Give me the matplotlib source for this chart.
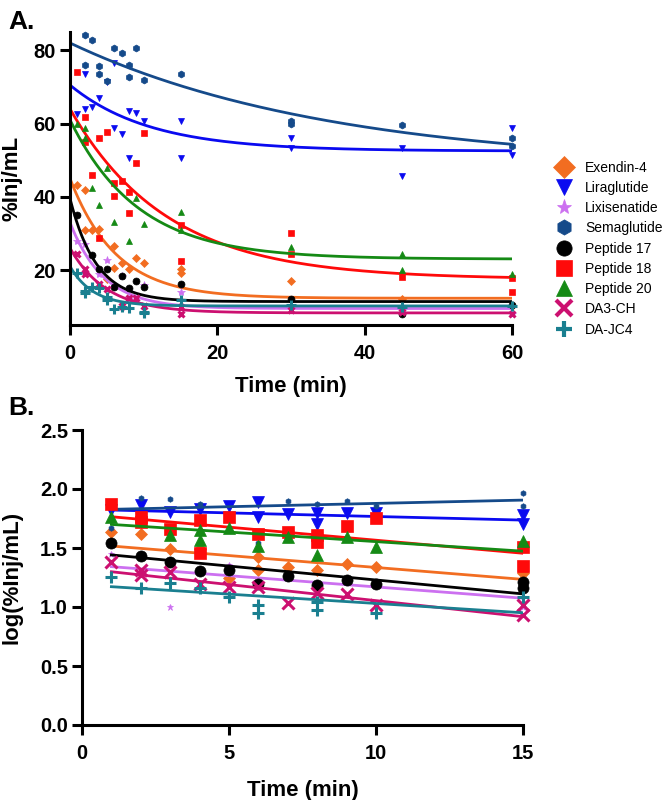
import numpy as np
import matplotlib
matplotlib.use('Agg')
from matplotlib import pyplot as plt
from matplotlib.lines import Line2D

plt.rcParams['font.family'] = ['Liberation Sans', 'DejaVu Sans']

names = ['Exendin-4', 'Liraglutide', 'Lixisenatide', 'Semaglutide', 'Peptide 17',
         'Peptide 18', 'Peptide 20', 'DA3-CH', 'DA-JC4']
colors = ['#f26d21', '#0a0af0', '#cc70f0', '#154a8a', '#000000',
          '#ff0a0a', '#158a15', '#cc1070', '#1a7f90']
markers = ['D', 'v', '*', 'h', 'o', 's', '^', 'x', '+']

# panel A: %Inj/mL vs time (min)
a_t = [
    [1, 2, 2, 3, 4, 5, 6, 6, 7, 8, 9, 10, 15, 15, 30, 45, 60],
    [1, 2, 2, 3, 4, 5, 6, 6, 7, 8, 8, 9, 10, 15, 15, 30, 30, 45, 45, 60, 60],
    [1, 2, 4, 5, 7, 8, 10, 15, 30, 45, 60],
    [2, 2, 3, 4, 4, 5, 6, 7, 8, 8, 9, 10, 15, 30, 30, 45, 60, 60],
    [1, 3, 4, 5, 6, 7, 8, 9, 10, 15, 30, 45, 60],
    [1, 2, 2, 3, 4, 4, 5, 6, 6, 7, 8, 8, 9, 10, 15, 15, 30, 30, 45, 60, 60],
    [1, 2, 2, 3, 4, 5, 6, 8, 9, 10, 15, 15, 30, 45, 45, 60],
    [1, 2, 2, 4, 5, 7, 8, 9, 10, 15, 15, 30, 45, 60],
    [1, 2, 2, 3, 4, 5, 5, 6, 7, 8, 10, 10, 15, 30, 45, 60],
]
a_y = [
    [43.3, 41.8, 31, 31, 31.3, 17.5, 26.6, 20.6, 22, 20.2, 23.3, 21.9, 20.2, 19.1, 16.9, 12, 10.3],
    [62.7, 73.4, 64.1, 64.5, 66.9, 71.4, 76.6, 58.7, 57.2, 63.4, 50.5, 62.9, 60.7, 60.7, 50.7,
     56.1, 53.2, 53.4, 45.7, 58.9, 51.4],
    [28, 27, 19, 22.7, 18.5, 12.2, 16, 14.1, 10, 9, 8],
    [84.3, 75.9, 82.9, 75.6, 73.6, 71.6, 80.6, 79.2, 75.9, 72.6, 80.6, 71.8, 73.4, 60.7, 59.9,
     59.6, 56.1, 53.9],
    [35, 24.2, 20.3, 20.3, 15.3, 18.5, 15.2, 17, 15.3, 16.1, 12.2, 8.1, 10.5],
    [74.1, 61.8, 55, 46, 56.1, 28.8, 57.8, 43.7, 40.1, 44.2, 41.3, 35.6, 49.1, 57.5, 32.4, 22.6,
     30, 24.4, 18, 17.7, 14],
    [60, 58.8, 56, 42.3, 37.8, 47.9, 33.1, 28, 39.8, 32.7, 35.9, 30.9, 26.2, 24.4, 19.9, 19],
    [24.3, 20.4, 18.9, 16.3, 14.7, 10.1, 12.5, 12.4, 10.1, 9.9, 8, 9, 8.5, 8],
    [19.2, 14.2, 13.7, 15.3, 15.2, 11.7, 12.6, 9.4, 9.9, 9.6, 8.5, 8.2, 11.7, 10.5, 10, 10.2],
]
# one-phase decay fits: Y0, plateau, K
fit_y0 = [45, 70.5, 33, 82, 39.5, 64, 61, 26, 21]
fit_plateau = [12.3, 52.5, 9.5, 48, 11.4, 17.5, 23, 8.3, 10.2]
fit_k = [0.16, 0.092, 0.22, 0.028, 0.28, 0.076, 0.108, 0.2, 0.32]

# panel B: log(%Inj/mL) vs time (min)
b_t = [
    [1, 2, 3, 4, 5, 6, 6, 7, 8, 9, 10, 15],
    [1, 2, 3, 4, 5, 6, 6, 7, 8, 8, 9, 10, 15, 15],
    [1, 3, 5, 15],
    [1, 2, 3, 4, 6, 7, 8, 9, 10, 15, 15],
    [1, 2, 3, 4, 5, 6, 7, 8, 9, 10, 15, 15],
    [1, 2, 2, 3, 4, 4, 5, 6, 7, 8, 8, 9, 10, 15, 15],
    [1, 3, 4, 4, 5, 6, 7, 8, 9, 10, 15],
    [1, 2, 2, 3, 4, 5, 6, 7, 8, 9, 10, 15, 15],
    [1, 2, 3, 4, 5, 6, 6, 8, 8, 10, 15],
]
b_y = [
    [1.638, 1.619, 1.489, 1.495, 1.243, 1.421, 1.314, 1.342, 1.314, 1.364, 1.342, 1.285],
    [1.822, 1.864, 1.808, 1.828, 1.856, 1.892, 1.765, 1.785, 1.794, 1.703, 1.794, 1.794, 1.78, 1.703],
    [1.45, 1.003, 1.356, 1.0],
    [1.667, 1.921, 1.912, 1.870, 1.54, 1.898, 1.873, 1.898, 1.856, 1.969, 1.859],
    [1.545, 1.435, 1.384, 1.308, 1.314, 1.192, 1.265, 1.186, 1.229, 1.192, 1.215, 1.158],
    [1.870, 1.765, 1.723, 1.658, 1.740, 1.455, 1.760, 1.619, 1.638, 1.61, 1.553, 1.686, 1.757,
     1.511, 1.350],
    [1.765, 1.610, 1.653, 1.568, 1.672, 1.517, 1.596, 1.441, 1.596, 1.511, 1.562],
    [1.384, 1.313, 1.271, 1.299, 1.195, 1.172, 1.17, 1.031, 1.116, 1.107, 1.020, 1.017, 0.932],
    [1.257, 1.158, 1.200, 1.158, 1.087, 1.017, 0.947, 1.045, 0.975, 0.947, 1.087],
]
# linear fits: intercept, slope
lin_int = [1.537, 1.828, 1.361, 1.822, 1.465, 1.787, 1.716, 1.326, 1.188]
lin_slope = [-0.0202, -0.0061, -0.0191, 0.0056, -0.0236, -0.0221, -0.0162, -0.0272, -0.0158]

a_ms = [4, 5, 6, 5, 5, 5, 5, 5, 7]
b_ms = [6, 8, 5, 4, 8, 9, 8, 8, 8]

fig = plt.figure(figsize=(6.72, 8), dpi=100)
axA = fig.add_axes([70/672, 1-325/800, 442/672, 293/800])
axB = fig.add_axes([82/672, 1-725/800, 441/672, 295/800])

for ax in (axA, axB):
    ax.spines['top'].set_visible(False)
    ax.spines['right'].set_visible(False)
    for s in ('left', 'bottom'):
        ax.spines[s].set_linewidth(2.2)
    ax.tick_params(width=2.2, length=7, labelsize=14.5, pad=3)
    ax.tick_params(axis='x', pad=7)

tt = np.linspace(0, 60, 300)
for i in range(len(names)):
    mew = 2.2 if markers[i] in ('x', '+') else 0.5
    axA.plot(a_t[i], a_y[i], linestyle='none', marker=markers[i], ms=a_ms[i],
             color=colors[i], mew=mew, clip_on=False)
    curve = fit_plateau[i] + (fit_y0[i] - fit_plateau[i]) * np.exp(-fit_k[i] * tt)
    axA.plot(tt, curve, color=colors[i], lw=2)

    axB.plot(b_t[i], b_y[i], linestyle='none', marker=markers[i], ms=b_ms[i],
             color=colors[i], mew=mew, clip_on=False)
    tb = np.array([1, 15])
    axB.plot(tb, lin_int[i] + lin_slope[i] * tb, color=colors[i], lw=2)

axA.set_xlim(0, 60)
axA.set_ylim(5, 85)
axA.set_xticks([0, 20, 40, 60])
axA.set_yticks([20, 40, 60, 80])
axA.set_xlabel('Time (min)', fontsize=16, fontweight='bold', labelpad=9)
axA.set_ylabel('%Inj/mL', fontsize=16, fontweight='bold')
axA.yaxis.set_label_coords(-0.108, 0.5)

axB.set_xlim(0, 15)
axB.set_ylim(0, 2.5)
axB.set_xticks([0, 5, 10, 15])
axB.set_yticks([0, 0.5, 1.0, 1.5, 2.0, 2.5])
axB.set_yticklabels(['0.0', '0.5', '1.0', '1.5', '2.0', '2.5'])
axB.set_xlabel('Time (min)', fontsize=16, fontweight='bold', labelpad=12)
axB.set_ylabel('log(%Inj/mL)', fontsize=16, fontweight='bold')
axB.yaxis.set_label_coords(-0.135, 0.5)

for ax in (axA, axB):
    for lab in ax.get_xticklabels() + ax.get_yticklabels():
        lab.set_fontweight('bold')

handles = []
for i in range(len(names)):
    mew = 3 if markers[i] in ('x', '+') else 0.5
    handles.append(Line2D([], [], linestyle='none', marker=markers[i], color=colors[i],
                          ms=11, mew=mew, label=names[i]))
fig.legend(handles=handles, loc='upper left', bbox_to_anchor=(545/672, 1-155/800),
           frameon=False, fontsize=10, handletextpad=0.5, labelspacing=0.45,
           borderaxespad=0)

fig.text(8/672, 1-22/800, 'A.', fontsize=19, fontweight='bold', va='center')
fig.text(8/672, 1-408/800, 'B.', fontsize=19, fontweight='bold', va='center')

fig.savefig('out.png', dpi=100)
